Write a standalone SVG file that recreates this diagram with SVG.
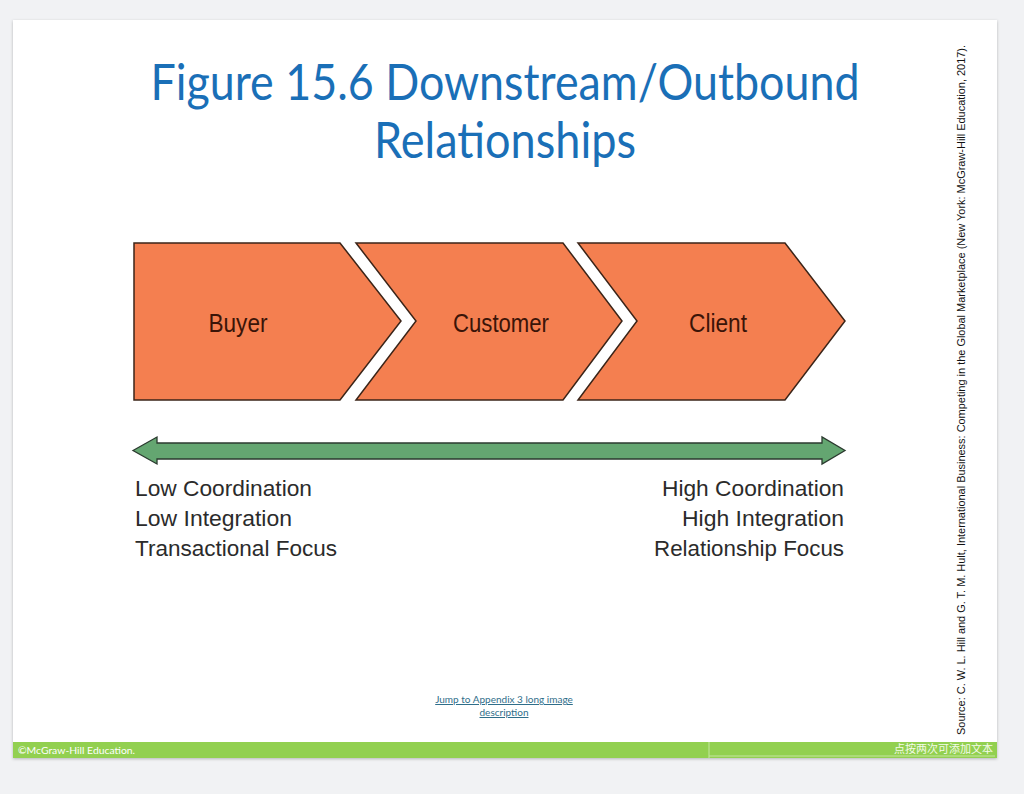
<svg xmlns="http://www.w3.org/2000/svg" width="1024" height="794" viewBox="0 0 1024 794">
<defs>
<style>
.chev{fill:#f47f50;stroke:#3b2418;stroke-width:1.5;stroke-linejoin:miter}
.lbl{font-family:"Liberation Sans",Arial,sans-serif;font-size:26px;fill:#3a1408;text-anchor:middle}
.bot{font-family:"Liberation Sans",Arial,sans-serif;font-size:22.5px;fill:#2b2b2b}
.title{font-family:Lato,"Open Sans",sans-serif;font-size:50px;fill:#1a6fb7;text-anchor:middle}
.link{font-family:Lato,"Liberation Sans",sans-serif;font-size:10px;fill:#2f6e8a;text-anchor:middle;text-decoration:underline}
</style>
<filter id="sh" x="-5%" y="-5%" width="110%" height="110%">
<feDropShadow dx="0" dy="1" stdDeviation="1.5" flood-color="#000" flood-opacity="0.25"/>
</filter>
</defs>
<rect x="0" y="0" width="1024" height="794" fill="#f1f2f4"/>
<g id="slide">
<rect x="13" y="20" width="984" height="738" fill="#ffffff" filter="url(#sh)"/>
<rect x="13" y="742" width="984" height="16" fill="#92d050"/>
<line x1="709" y1="742" x2="709" y2="758" stroke="#c5e6a0" stroke-width="1"/>
<line x1="709" y1="756" x2="995" y2="756" stroke="#c5e6a0" stroke-width="1"/>
<text x="18" y="754" font-family="Lato,'Liberation Sans',sans-serif" font-size="10" fill="#ffffff" textLength="117" lengthAdjust="spacingAndGlyphs">©McGraw-Hill Education.</text>
<text x="993" y="753" font-family="'Noto Sans CJK SC',sans-serif" font-size="11" fill="#f4fbe9" text-anchor="end">点按两次可添加文本</text>
</g>
<g id="title">
<text class="title" x="505" y="100" textLength="709" lengthAdjust="spacingAndGlyphs">Figure 15.6 Downstream/Outbound</text>
<text class="title" x="505" y="158" textLength="262" lengthAdjust="spacingAndGlyphs">Relationships</text>
</g>
<g id="buyer">
<polygon class="chev" points="134,243 340,243 401,321 340,400 134,400"/>
<text class="lbl" x="238" y="332" textLength="59" lengthAdjust="spacingAndGlyphs">Buyer</text>
</g>
<g id="customer">
<polygon class="chev" points="356,243 563,243 622,321 563,400 356,400 416,321"/>
<text class="lbl" x="501" y="332" textLength="96" lengthAdjust="spacingAndGlyphs">Customer</text>
</g>
<g id="client">
<polygon class="chev" points="578,243 785,243 845,321 785,400 578,400 637,321"/>
<text class="lbl" x="718" y="332" textLength="58" lengthAdjust="spacingAndGlyphs">Client</text>
</g>
<g id="connectors">
<polygon points="133,450.5 157,437 157,443 822,443 822,437 845,450.5 822,464 822,459 157,459 157,464" fill="#64a671" stroke="#2b3a2f" stroke-width="1.3" stroke-linejoin="miter"/>
</g>
<g id="low-side">
<text class="bot" x="135" y="496" textLength="177" lengthAdjust="spacingAndGlyphs">Low Coordination</text>
<text class="bot" x="135" y="526" textLength="157" lengthAdjust="spacingAndGlyphs">Low Integration</text>
<text class="bot" x="135" y="556" textLength="202" lengthAdjust="spacingAndGlyphs">Transactional Focus</text>
</g>
<g id="high-side">
<text class="bot" x="844" y="496" text-anchor="end" textLength="182" lengthAdjust="spacingAndGlyphs">High Coordination</text>
<text class="bot" x="844" y="526" text-anchor="end" textLength="162" lengthAdjust="spacingAndGlyphs">High Integration</text>
<text class="bot" x="844" y="556" text-anchor="end" textLength="190" lengthAdjust="spacingAndGlyphs">Relationship Focus</text>
</g>
<g id="source">
<text x="0" y="0" transform="translate(965,735) rotate(-90)" font-family="'Liberation Sans',Arial,sans-serif" font-size="11.5" fill="#111111" textLength="690" lengthAdjust="spacingAndGlyphs">Source: C. W. L. Hill and G. T. M. Hult, International Business: Competing in the Global Marketplace (New York: McGraw-Hill Education, 2017).</text>
</g>
<g id="link">
<text class="link" x="504" y="703">Jump to Appendix 3 long image</text>
<text class="link" x="504" y="716">description</text>
</g>
</svg>
